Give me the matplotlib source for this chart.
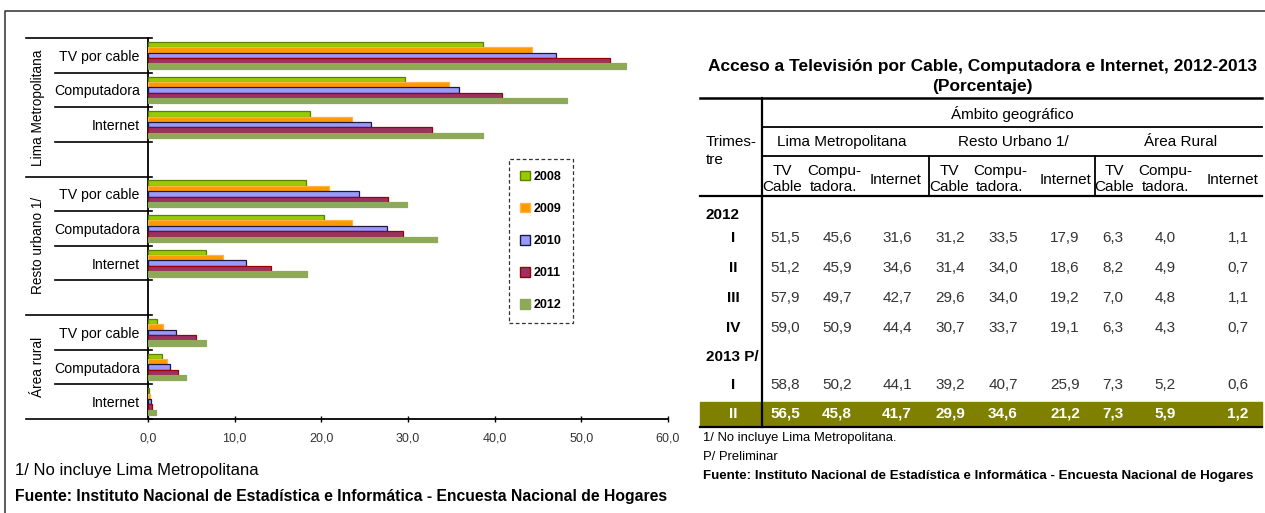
import matplotlib
matplotlib.use("Agg")
import matplotlib.pyplot as plt
import matplotlib.transforms as mtransforms
from matplotlib.patches import Patch, Rectangle
from matplotlib.lines import Line2D

# Arial-metric face; the original is set in Arial (Narrow)
plt.rcParams["font.family"] = ["Liberation Sans", "DejaVu Sans"]

W, H = 1265, 513

# ---- bar chart data (% of households, by year) ----
years = ["2008", "2009", "2010", "2011", "2012"]
items = ["TV por cable", "Computadora", "Internet"]
regions = ["Lima Metropolitana", "Resto urbano 1/", "Área rural"]

lima_tv = [38.6, 44.3, 47.1, 53.3, 55.2]
lima_comp = [29.7, 34.7, 35.9, 40.8, 48.3]
lima_net = [18.7, 23.5, 25.7, 32.8, 38.7]
resto_tv = [18.2, 20.9, 24.3, 27.7, 29.9]
resto_comp = [20.3, 23.5, 27.6, 29.4, 33.4]
resto_net = [6.7, 8.6, 11.3, 14.2, 18.3]
rural_tv = [1.0, 1.7, 3.2, 5.5, 6.7]
rural_comp = [1.6, 2.2, 2.5, 3.5, 4.4]
rural_net = [0.1, 0.2, 0.3, 0.5, 0.9]

xticks = [0, 10, 20, 30, 40, 50, 60]

# ---- table data ----
table_title = "Acceso a Televisión por Cable, Computadora e Internet, 2012-2013"
table_sub = "(Porcentaje)"
zones = ["Lima Metropolitana", "Resto Urbano 1/", "Área Rural"]
rows_2012 = ["I", "II", "III", "IV"]
vals_2012 = [
    [51.5, 45.6, 31.6, 31.2, 33.5, 17.9, 6.3, 4.0, 1.1],
    [51.2, 45.9, 34.6, 31.4, 34.0, 18.6, 8.2, 4.9, 0.7],
    [57.9, 49.7, 42.7, 29.6, 34.0, 19.2, 7.0, 4.8, 1.1],
    [59.0, 50.9, 44.4, 30.7, 33.7, 19.1, 6.3, 4.3, 0.7],
]
rows_2013 = ["I", "II"]
vals_2013 = [
    [58.8, 50.2, 44.1, 39.2, 40.7, 25.9, 7.3, 5.2, 0.6],
    [56.5, 45.8, 41.7, 29.9, 34.6, 21.2, 7.3, 5.9, 1.2],
]

colors = ["#99CC00", "#FF9900", "#9999FF", "#993366", "#8EA957"]
edges = ["#5E7F00", "#FFB347", "#1A1A40", "#990000", "#8EA957"]


def fx(x):
    return x / W


def fy(y):
    return 1 - y / H


def coma(v):
    return f"{v:.1f}".replace(".", ",")


fig = plt.figure(figsize=(W / 100, H / 100), dpi=100)

# outer frame (top + left)
fig.add_artist(Line2D([fx(5), fx(5), fx(1265)], [fy(513), fy(11), fy(11)],
                      transform=fig.transFigure, color="#404040", lw=1.2))

# ---------------- left: grouped horizontal bars ----------------
ax = fig.add_axes([fx(148), fy(419), (668 - 148) / W, (419 - 38) / H])
ax.set_xlim(0, 60)
ax.set_ylim(11, 0)

series = [
    [lima_tv, lima_comp, lima_net],
    [resto_tv, resto_comp, resto_net],
    [rural_tv, rural_comp, rural_net],
]
bh = 0.155
for r, reg in enumerate(series):
    for k, vals in enumerate(reg):
        slot = r * 4 + k + 0.5
        for j, v in enumerate(vals):
            ax.barh(slot + (j - 2) * bh, v, height=bh, color=colors[j],
                    edgecolor=edges[j], linewidth=0.9, zorder=3 + j)

ytick_pos, ytick_lab = [], []
for r in range(3):
    for k in range(3):
        ytick_pos.append(r * 4 + k + 0.5)
        ytick_lab.append(items[k])
ax.set_yticks(ytick_pos)
ax.set_yticklabels(ytick_lab, fontsize=10.2)
ax.tick_params(axis="y", length=0, pad=6)

ax.set_xticks(xticks)
ax.set_xticklabels([coma(v) for v in xticks], fontsize=9, color="#333333")
ax.tick_params(axis="x", direction="inout", length=5, width=1, pad=7)

for s in ["top", "right"]:
    ax.spines[s].set_visible(False)
ax.spines["left"].set_linewidth(1.3)
ax.spines["bottom"].set_linewidth(1.3)

# category separators, longer ones between regions
blend = mtransforms.blended_transform_factory(ax.transAxes, ax.transData)
for b in range(12):
    if b in (0, 4, 8, 11):
        x0 = (26 - 148) / 520
    else:
        x0 = (55 - 148) / 520
    ax.plot([x0, 0.008], [b, b], color="black", lw=1.2, transform=blend, clip_on=False)

for r, reg in enumerate(regions):
    center = 2.0 + r * 4 if r < 2 else 9.5
    ax.text((38 - 148) / 520, center, reg, rotation=90, ha="center", va="center",
            fontsize=9.8, transform=blend)

handles = [Patch(facecolor=colors[j], edgecolor=edges[j], linewidth=1) for j in range(5)]
leg = ax.legend(handles, years, loc="center", bbox_to_anchor=(fx(541), fy(241)),
                bbox_transform=fig.transFigure, frameon=True, fancybox=False,
                handlelength=0.8, handleheight=0.8, handletextpad=0.3,
                labelspacing=1.6, borderpad=0.9, prop={"weight": "bold", "size": 9})
leg.get_frame().set_edgecolor("black")
leg.get_frame().set_linestyle((0, (3, 2)))
leg.get_frame().set_linewidth(0.9)

fig.text(fx(15), fy(470), "1/ No incluye Lima Metropolitana", fontsize=12, va="center")
fig.text(fx(15), fy(497),
         "Fuente: Instituto Nacional de Estadística e Informática - Encuesta Nacional de Hogares",
         fontsize=11.3, fontweight="bold", va="center")

# ---------------- right: table ----------------
def hline(x0, x1, y, lw=1.3):
    fig.add_artist(Line2D([fx(x0), fx(x1)], [fy(y), fy(y)], transform=fig.transFigure,
                          color="black", lw=lw))


def vline(x, y0, y1, lw=1.3):
    fig.add_artist(Line2D([fx(x), fx(x)], [fy(y0), fy(y1)], transform=fig.transFigure,
                          color="black", lw=lw))


fig.text(fx(982), fy(67), table_title, ha="center", va="center", fontsize=12.5,
         fontweight="bold")
fig.text(fx(982), fy(86), table_sub, ha="center", va="center", fontsize=12.5,
         fontweight="bold")

# highlighted last row
fig.add_artist(Rectangle((fx(700), fy(426)), fx(1262) - fx(700), 24 / H,
                         transform=fig.transFigure, color="#808000", zorder=0))

hline(700, 1262, 98, 1.8)
hline(762, 1262, 127)
hline(762, 1262, 156)
hline(700, 1262, 196, 1.6)
hline(700, 1262, 427, 1.6)
vline(762, 98, 427, 1.6)
vline(929, 156, 196)
vline(1095, 156, 196)

fs = 11
fig.text(fx(1012), fy(114), "Ámbito geográfico", ha="center", va="center", fontsize=fs)
fig.text(fx(706), fy(142), "Trimes-", ha="left", va="center", fontsize=fs)
fig.text(fx(706), fy(160), "tre", ha="left", va="center", fontsize=fs)
for z, cx in zip(zones, [842, 1013, 1181]):
    fig.text(fx(cx), fy(142), z, ha="center", va="center", fontsize=fs)

col_x = [785, 837, 897, 950, 1003, 1065, 1113, 1165, 1238]
head_x = [782, 834, 896, 949, 1000, 1066, 1114, 1165, 1233]
for g in range(3):
    c = head_x[3 * g:3 * g + 3]
    fig.text(fx(c[0]), fy(171), "TV", ha="center", va="center", fontsize=fs)
    fig.text(fx(c[0]), fy(187), "Cable", ha="center", va="center", fontsize=fs)
    fig.text(fx(c[1]), fy(171), "Compu-", ha="center", va="center", fontsize=fs)
    fig.text(fx(c[1]), fy(187), "tadora.", ha="center", va="center", fontsize=fs)
    fig.text(fx(c[2]), fy(180), "Internet", ha="center", va="center", fontsize=fs)

fig.text(fx(706), fy(215), "2012", ha="left", va="center", fontsize=fs, fontweight="bold")
for i, (lab, vals) in enumerate(zip(rows_2012, vals_2012)):
    y = 238 + i * 30
    fig.text(fx(733), fy(y), lab, ha="center", va="center", fontsize=fs, fontweight="bold")
    for cx, v in zip(col_x, vals):
        fig.text(fx(cx), fy(y), coma(v), ha="center", va="center", fontsize=fs,
                 color="#333333")

fig.text(fx(706), fy(357), "2013 P/", ha="left", va="center", fontsize=fs, fontweight="bold")
for i, (lab, vals) in enumerate(zip(rows_2013, vals_2013)):
    y = 385 + i * 29
    last = i == len(rows_2013) - 1
    col = "white" if last else "#333333"
    fig.text(fx(733), fy(y), lab, ha="center", va="center", fontsize=fs, fontweight="bold",
             color="white" if last else "black")
    for cx, v in zip(col_x, vals):
        fig.text(fx(cx), fy(y), coma(v), ha="center", va="center", fontsize=fs, color=col,
                 fontweight="bold" if last else "normal")

fig.text(fx(703), fy(438), "1/ No incluye Lima Metropolitana.", fontsize=9.4, va="center")
fig.text(fx(703), fy(457), "P/ Preliminar", fontsize=9.4, va="center")
fig.text(fx(703), fy(476),
         "Fuente: Instituto Nacional de Estadística e Informática - Encuesta Nacional de Hogares",
         fontsize=9.6, fontweight="bold", va="center")

fig.savefig("out.png", dpi=100)
